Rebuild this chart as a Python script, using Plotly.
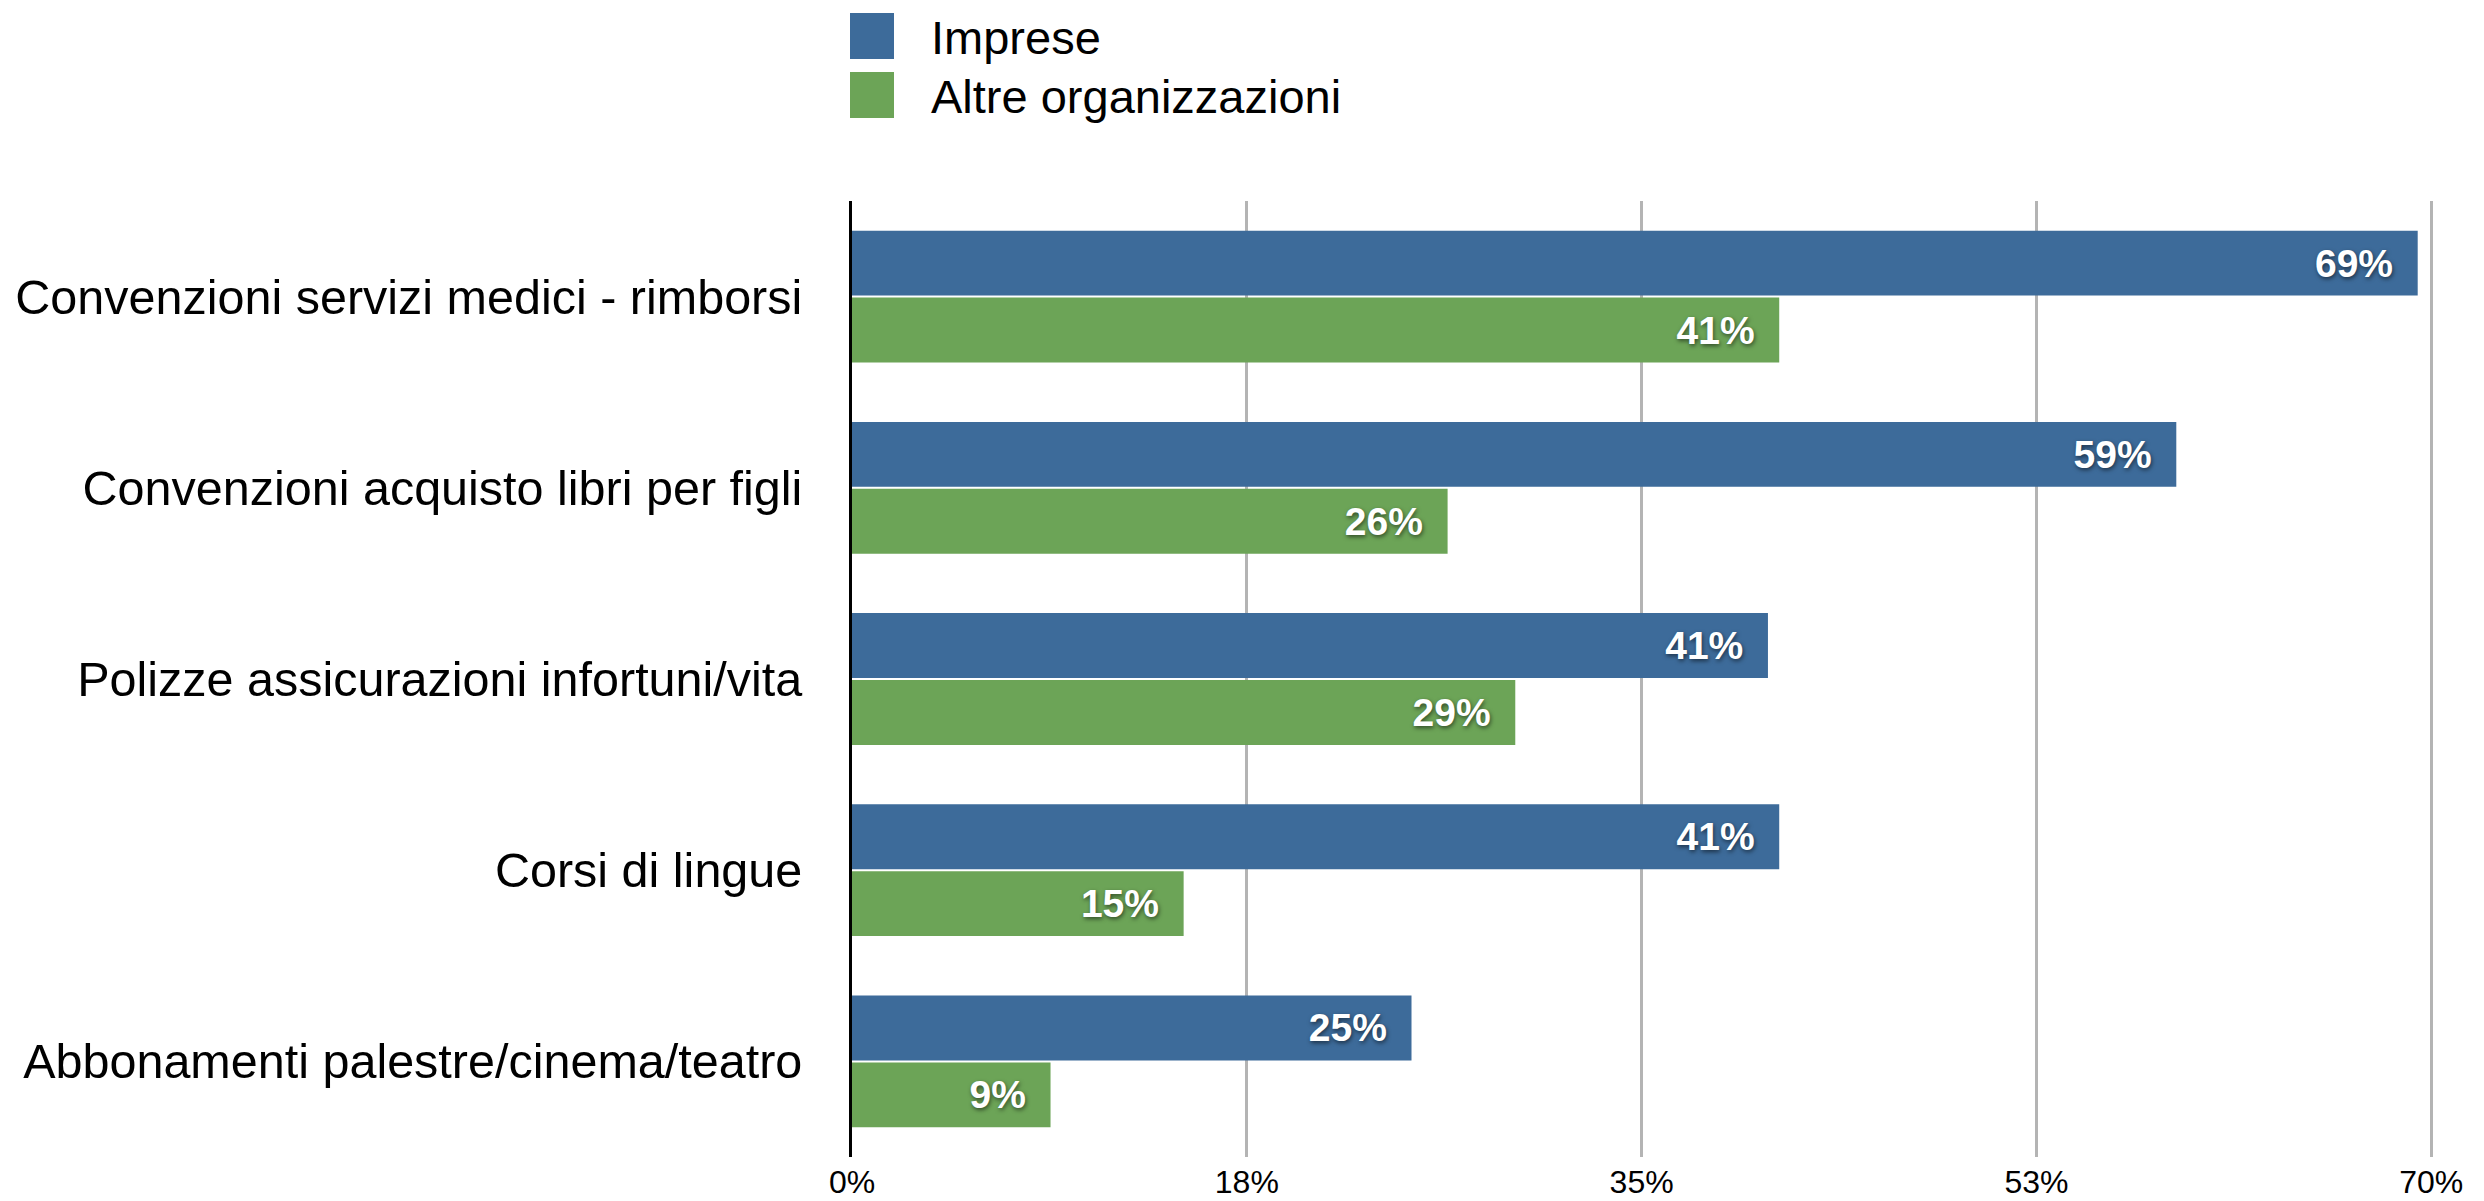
import plotly.graph_objects as go

categories = [
    "Convenzioni servizi medici - rimborsi",
    "Convenzioni acquisto libri per figli",
    "Polizze assicurazioni infortuni/vita",
    "Corsi di lingue",
    "Abbonamenti palestre/cinema/teatro",
]
series_names = ["Imprese", "Altre organizzazioni"]
imprese = [69.4, 58.7, 40.6, 41.1, 24.8]
altre = [41.1, 26.4, 29.4, 14.7, 8.8]
tick_values = [0, 17.5, 35, 52.5, 70]
tick_labels = ["0%", "18%", "35%", "53%", "70%"]

BLUE = "#3D6B9A"
GREEN = "#6CA457"

OFF = 8  # page body margin in the browser
W, H = 2484 - OFF, 1201 - OFF
ML, MR, MT, MB = 844, 46, 193, 44
PW, PH = W - ML - MR, H - MT - MB
X_MAX = 70.3

fig = go.Figure()
for name, vals, col in [(series_names[0], imprese, BLUE), (series_names[1], altre, GREEN)]:
    fig.add_trace(go.Bar(
        name=name, y=categories, x=vals, orientation="h",
        marker=dict(color=col, line=dict(width=0)),
        texttemplate="%{x:.0f}%  ", textposition="inside", insidetextanchor="end",
        textangle=0, constraintext="none",
        textfont=dict(family="Liberation Sans, Arial, sans-serif", size=39, color="white",
                      weight="bold", shadow="1px 2px 4px rgba(0,0,0,0.55)"),
        showlegend=False,
    ))

# custom legend (big square swatches); positions given in screen pixels
def px_x(px):
    return (px - OFF - ML) / PW

def px_y(py):
    return (H - MB - (py - OFF)) / PH

legend_rows = [(series_names[0], BLUE, 13, 59), (series_names[1], GREEN, 72, 118)]
for name, col, y0, y1 in legend_rows:
    fig.add_shape(type="rect", xref="paper", yref="paper",
                  x0=px_x(850), x1=px_x(894), y0=px_y(y1), y1=px_y(y0),
                  fillcolor=col, line=dict(width=0), layer="above")
    fig.add_annotation(xref="paper", yref="paper", x=px_x(929), y=px_y((y0 + y1) / 2 + 1),
                       text=name, showarrow=False, xanchor="left", yanchor="middle",
                       font=dict(family="Liberation Sans, Arial, sans-serif", size=47, color="black"))

fig.update_layout(
    template="none",
    width=W, height=H,
    margin=dict(l=ML, r=MR, t=MT, b=MB, pad=0),
    barmode="group", bargap=0.30, bargroupgap=0.03,
    plot_bgcolor="white", paper_bgcolor="white",
    xaxis=dict(range=[0, X_MAX], tickvals=tick_values, ticktext=tick_labels, automargin=False,
               showgrid=True, gridcolor="#B4B4B4", gridwidth=3, zeroline=False,
               showline=False, ticks="", side="bottom", ticklabelstandoff=3,
               tickfont=dict(family="Liberation Sans Narrow, Arial Narrow, Liberation Sans, sans-serif",
                             size=32, color="black")),
    yaxis=dict(autorange="reversed", showline=True, linecolor="black", linewidth=3, automargin=False,
               ticks="", showgrid=False, zeroline=False, ticklabelstandoff=37,
               tickfont=dict(family="Liberation Sans, Arial, sans-serif", size=48.5, color="black")),
)

fig.write_html("out.html")
